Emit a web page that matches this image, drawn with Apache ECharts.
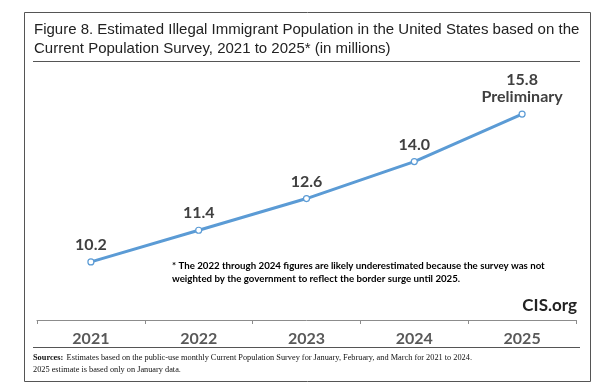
<!DOCTYPE html>
<html>
<head>
<meta charset="utf-8">
<script src="https://cdn.jsdelivr.net/npm/echarts@6/dist/echarts.min.js"></script>
<style>
html,body{margin:0;padding:0;background:#fff;}
#c{width:600px;height:391px;}
</style>
</head>
<body>
<div id="c"></div>
<script>
var years = ['2021', '2022', '2023', '2024', '2025'];
var population = [10.2, 11.4, 12.6, 14.0, 15.8];
var labelNotes = ['', '', '', '', 'Preliminary'];
var titleLines = ['Figure 8. Estimated Illegal Immigrant Population in the United States based on the',
                  'Current Population Survey, 2021 to 2025* (in millions)'];
var footnoteLines = ['* The 2022 through 2024 figures are likely underestimated because the survey was not',
                     'weighted by the government to reflect the border surge until 2025.'];
var sourceLine1 = 'Estimates based on the public-use monthly Current Population Survey for January, February, and March for 2021 to 2024.';
var sourceLine2 = '2025 estimate is based only on January data.';
var brand = 'CIS.org';

var chart = echarts.init(document.getElementById('c'), null, {renderer: 'canvas'});
chart.setOption({
  animation: false,
  backgroundColor: '#ffffff',
  grid: {left: 37, width: 539, top: 56, height: 264},
  xAxis: {
    type: 'category',
    data: years,
    boundaryGap: true,
    axisLine: {lineStyle: {color: '#8c8c8c', width: 1}},
    axisTick: {show: true, length: 4, inside: false, lineStyle: {color: '#8c8c8c'}},
    axisLabel: {color: '#595959', fontFamily: 'Lato', fontWeight: 'bold', fontSize: 16, margin: 11}
  },
  yAxis: {
    type: 'value', min: 8, max: 18, interval: 2, show: false,
    splitLine: {show: false}
  },
  series: [{
    type: 'line',
    data: population,
    symbol: 'circle',
    symbolSize: 6,
    itemStyle: {color: '#ffffff', borderColor: '#5b9bd5', borderWidth: 1.2},
    lineStyle: {color: '#5b9bd5', width: 3},
    label: {
      show: true,
      position: 'top',
      distance: 5,
      color: '#404040',
      fontFamily: 'Lato',
      fontWeight: 'bold',
      fontSize: 16,
      lineHeight: 17,
      formatter: function (p) {
        var v = p.value.toFixed(1);
        return labelNotes[p.dataIndex] ? v + '\n' + labelNotes[p.dataIndex] : v;
      }
    },
    z: 3
  }],
  graphic: [
    {type: 'rect', shape: {x: 24.5, y: 12.5, width: 566, height: 369}, style: {fill: null, stroke: '#555', lineWidth: 1}, silent: true},
    {type: 'text', left: 34, top: 20, style: {text: titleLines.join('\n'), font: '15px "Liberation Sans", Arial, sans-serif', fill: '#222', lineHeight: 19}},
    {type: 'line', shape: {x1: 33, y1: 61.5, x2: 580, y2: 61.5}, style: {stroke: '#555', lineWidth: 1.2}},
    {type: 'text', left: 172, top: 259, style: {text: footnoteLines.join('\n'), font: 'bold 9.7px Lato, sans-serif', fill: '#000', lineHeight: 13}},
    {type: 'text', right: 23, top: 297, style: {text: brand, font: 'bold 17px Lato, sans-serif', fill: '#222'}},
    {type: 'line', shape: {x1: 33, y1: 347.5, x2: 580, y2: 347.5}, style: {stroke: '#555', lineWidth: 1.2}},
    {type: 'text', left: 33, top: 352, style: {rich: {b: {font: 'bold 8.3px "Liberation Serif", serif', fill: '#111'}, n: {font: '8.3px "Liberation Serif", serif', fill: '#111'}}, text: '{b|Sources:} {n|' + sourceLine1 + '}\n{n|' + sourceLine2 + '}', lineHeight: 11.5}}
  ]
});
</script>
</body>
</html>
